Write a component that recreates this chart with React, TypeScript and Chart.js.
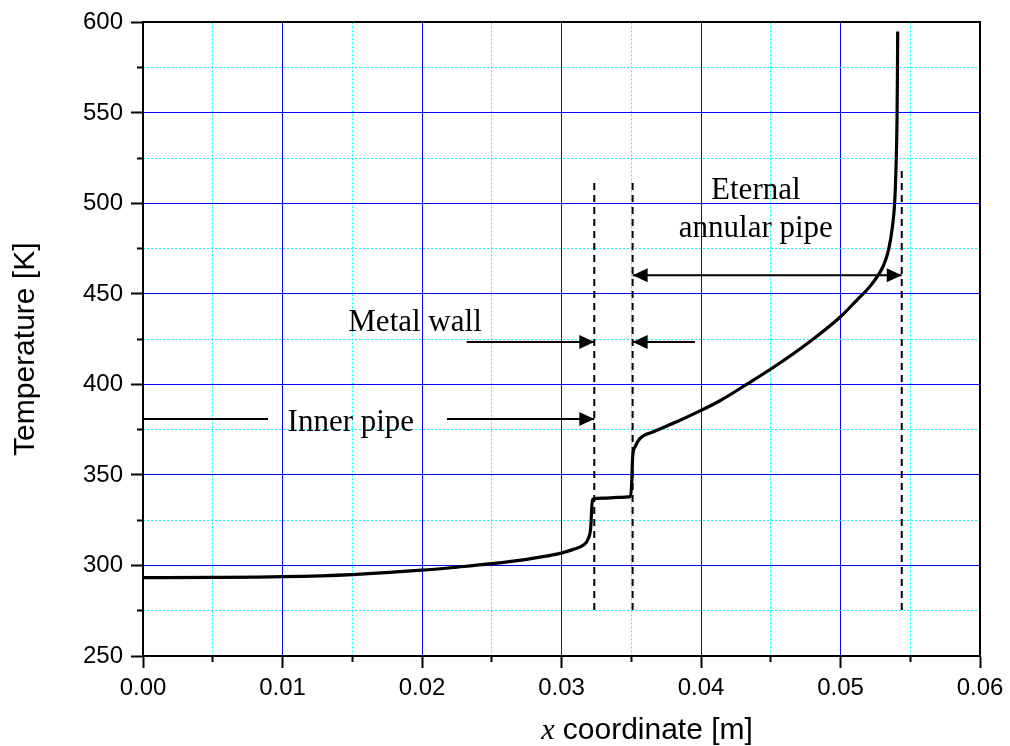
import { useEffect, useRef } from 'react';
import { Chart, registerables } from 'chart.js';

Chart.register(...registerables);

// ---- tick data ----
const xTickValues = [0, 0.01, 0.02, 0.03, 0.04, 0.05, 0.06];
const xTickLabels = ['0.00', '0.01', '0.02', '0.03', '0.04', '0.05', '0.06'];
const yTickValues = [250, 300, 350, 400, 450, 500, 550, 600];
const yTickLabels = ['250', '300', '350', '400', '450', '500', '550', '600'];

// ---- temperature profile ----
const positionX = [
  0, 0.005, 0.01, 0.015, 0.02, 0.0225, 0.025, 0.0275, 0.029, 0.0299,
  0.03085, 0.03157, 0.03193, 0.0321, 0.03216, 0.03222, 0.033, 0.034, 0.03495,
  0.03503, 0.0351, 0.03527, 0.03563, 0.03658, 0.03826, 0.03993, 0.04136, 0.0433,
  0.0452, 0.0476, 0.05, 0.05116, 0.0522, 0.05307, 0.05345, 0.05372, 0.05388,
  0.05398, 0.05405, 0.05408, 0.0541,
];
const temperature = [
  293.3, 293.4, 293.8, 295.0, 297.4, 299.1, 301.0, 303.4, 305.3, 306.7,
  308.9, 311.3, 315.0, 321.4, 330.6, 336.6, 337.2, 337.6, 338.0,
  345.0, 360.0, 365.5, 370.2, 373.9, 379.4, 385.4, 391.0, 400.2,
  409.5, 422.5, 437.4, 446.5, 455.0, 465.5, 474.5, 487.0, 500.0,
  520.0, 545.0, 570.0, 595.0,
];

// ---- dashed boundary lines ----
const boundaryX = [0.03235, 0.0351, 0.05439];
const boundaryBottom = [275.4, 275.4, 275.4];
const boundaryTop = [512, 512, 519.4];

// ---- arrows (x from, x to, T level, heads) ----
const arrowFrom = [0, 0.02179, 0.0232, 0.03957, 0.0351];
const arrowTo = [0.00896, 0.03235, 0.03235, 0.0351, 0.05439];
const arrowLevel = [380.9, 380.9, 423.5, 423.5, 460.3];
const arrowHeadStart = [false, false, false, false, true];
const arrowHeadEnd = [false, true, true, true, true];

// ---- annotation texts ----
const noteTexts = ['Inner pipe', 'Metal wall', 'Eternal', 'annular pipe'];
const noteX = [0.0149, 0.0195, 0.04393, 0.04393];
const noteY = [374.4, 429.6, 502.3, 481.2];

const BLUE = '#0000ff';
const CYAN = '#00ffff';
const CLEAR = 'rgba(0,0,0,0)';

const overlayPlugin = {
  id: 'overlay',
  afterDatasetsDraw(chart: any) {
    const ctx = chart.ctx as CanvasRenderingContext2D;
    const xs = chart.scales.x;
    const ys = chart.scales.y;
    ctx.save();
    ctx.fillStyle = '#000';
    const head = (tipX: number, tipY: number, dir: number) => {
      const L = 15;
      const H = 7;
      ctx.beginPath();
      ctx.moveTo(tipX, tipY);
      ctx.lineTo(tipX - dir * L, tipY - H);
      ctx.lineTo(tipX - dir * L, tipY + H);
      ctx.closePath();
      ctx.fill();
    };
    for (let i = 0; i < arrowFrom.length; i++) {
      const a = xs.getPixelForValue(arrowFrom[i]);
      const b = xs.getPixelForValue(arrowTo[i]);
      const py = ys.getPixelForValue(arrowLevel[i]);
      const dir = b >= a ? 1 : -1;
      if (arrowHeadEnd[i]) head(b, py, dir);
      if (arrowHeadStart[i]) head(a, py, -dir);
    }
    ctx.font = '31px "Liberation Serif", "Times New Roman", serif';
    ctx.textAlign = 'center';
    ctx.textBaseline = 'alphabetic';
    for (let i = 0; i < noteTexts.length; i++) {
      ctx.fillText(noteTexts[i], xs.getPixelForValue(noteX[i]), ys.getPixelForValue(noteY[i]));
    }
    ctx.restore();
  },
  afterDraw(chart: any) {
    const ctx = chart.ctx as CanvasRenderingContext2D;
    const area = chart.chartArea;
    ctx.save();
    ctx.fillStyle = '#000';
    ctx.translate(area.left - 109.5, (area.top + area.bottom) / 2 + 10);
    ctx.rotate(-Math.PI / 2);
    ctx.font = '30px "Liberation Sans", Arial, sans-serif';
    ctx.textAlign = 'center';
    ctx.textBaseline = 'alphabetic';
    ctx.fillText('Temperature [K]', 0, 0);
    ctx.restore();

    ctx.save();
    ctx.fillStyle = '#000';
    ctx.textBaseline = 'alphabetic';
    ctx.textAlign = 'left';
    const f1 = 'italic 30px "Liberation Serif", "Times New Roman", serif';
    const f2 = '30px "Liberation Sans", Arial, sans-serif';
    ctx.font = f1;
    const w1 = ctx.measureText('x').width;
    ctx.font = f2;
    const t2 = ' coordinate [m]';
    const w2 = ctx.measureText(t2).width;
    const cx = (area.left + area.right) / 2 + 85.5;
    const by = area.bottom + 82.5;
    const sx = cx - (w1 + w2) / 2;
    ctx.font = f1;
    ctx.fillText('x', sx, by);
    ctx.font = f2;
    ctx.fillText(t2, sx + w1, by);
    ctx.restore();
  },
};

export default function App() {
  const ref = useRef<HTMLCanvasElement>(null);

  useEffect(() => {
    const canvas = ref.current;
    if (!canvas) return;

    const curve = positionX.map((x, i) => ({ x, y: temperature[i] }));
    const dashedSets = boundaryX.map((x, i) => ({
      data: [
        { x, y: boundaryBottom[i] },
        { x, y: boundaryTop[i] },
      ],
      borderColor: '#000',
      borderWidth: 2,
      borderDash: [7, 5],
      pointRadius: 0,
      tension: 0,
      fill: false,
    }));
    const arrowSets = arrowFrom.map((a, i) => ({
      data: [
        { x: a, y: arrowLevel[i] },
        { x: arrowTo[i], y: arrowLevel[i] },
      ],
      borderColor: '#000',
      borderWidth: 2,
      pointRadius: 0,
      tension: 0,
      fill: false,
    }));

    const tickFont = { family: '"Liberation Sans", Arial, sans-serif', size: 24 };

    const chart = new Chart(canvas, {
      type: 'line',
      data: {
        datasets: [
          {
            data: curve,
            borderColor: '#000',
            borderWidth: 3.2,
            pointRadius: 0,
            cubicInterpolationMode: 'monotone',
            fill: false,
          } as any,
          ...dashedSets,
          ...arrowSets,
        ],
      },
      options: {
        responsive: false,
        devicePixelRatio: 1,
        animation: false,
        layout: { padding: { top: 22, right: 30, left: 0, bottom: 0 } },
        plugins: { legend: { display: false }, tooltip: { enabled: false }, title: { display: false } },
        scales: {
          x: {
            type: 'linear',
            position: 'bottom',
            weight: 1,
            min: 0,
            max: 0.06,
            afterBuildTicks: (s: any) => {
              s.ticks = xTickValues.map((v) => ({ value: v }));
            },
            ticks: {
              autoSkip: false,
              maxRotation: 0,
              color: '#000',
              font: tickFont,
              padding: 6,
              callback: (v: any) => {
                const i = xTickValues.findIndex((t) => Math.abs(t - Number(v)) < 1e-9);
                return i >= 0 ? xTickLabels[i] : '';
              },
            },
            grid: { color: BLUE, lineWidth: 1, tickLength: 12, tickWidth: 2, tickColor: '#000' },
            border: { display: true, color: '#000', width: 2 },
            afterFit: (s: any) => {
              s.height = 90;
            },
          },
          xMinor: {
            type: 'linear',
            position: 'bottom',
            weight: 0,
            min: 0,
            max: 0.06,
            ticks: { display: false, stepSize: 0.005 },
            grid: {
              color: (c: any) => (c.index % 2 === 1 ? CYAN : CLEAR),
              lineWidth: 1,
              tickLength: 6,
              tickWidth: 2,
              tickColor: (c: any) => (c.index % 2 === 1 ? '#000' : CLEAR),
              tickBorderDash: [],
            },
            border: { display: false, dash: [2, 2] },
            afterFit: (s: any) => {
              s.height = 0;
            },
          },
          xTop: {
            type: 'linear',
            position: 'top',
            min: 0,
            max: 0.06,
            ticks: { display: false },
            grid: { display: false, drawOnChartArea: false, drawTicks: false },
            border: { display: true, color: '#000', width: 2 },
            afterFit: (s: any) => {
              s.height = 0;
            },
          },
          y: {
            type: 'linear',
            position: 'left',
            weight: 1,
            min: 250,
            max: 600,
            afterBuildTicks: (s: any) => {
              s.ticks = yTickValues.map((v) => ({ value: v }));
            },
            ticks: {
              color: '#000',
              font: tickFont,
              padding: 8,
              callback: (v: any) => {
                const i = yTickValues.indexOf(Number(v));
                return i >= 0 ? yTickLabels[i] : '';
              },
            },
            grid: { color: BLUE, lineWidth: 1, tickLength: 12, tickWidth: 2, tickColor: '#000' },
            border: { display: true, color: '#000', width: 2 },
            afterFit: (s: any) => {
              s.width = 143;
            },
          },
          yMinor: {
            type: 'linear',
            position: 'left',
            weight: 0,
            min: 250,
            max: 600,
            ticks: { display: false, stepSize: 25 },
            grid: {
              color: (c: any) => (c.index % 2 === 1 ? CYAN : CLEAR),
              lineWidth: 1,
              tickLength: 6,
              tickWidth: 2,
              tickColor: (c: any) => (c.index % 2 === 1 ? '#000' : CLEAR),
              tickBorderDash: [],
            },
            border: { display: false, dash: [2, 2] },
            afterFit: (s: any) => {
              s.width = 0;
            },
          },
          yRight: {
            type: 'linear',
            position: 'right',
            min: 250,
            max: 600,
            ticks: { display: false },
            grid: { display: false, drawOnChartArea: false, drawTicks: false },
            border: { display: true, color: '#000', width: 2 },
            afterFit: (s: any) => {
              s.width = 0;
            },
          },
        },
      } as any,
      plugins: [overlayPlugin],
    });

    return () => chart.destroy();
  }, []);

  return (
    <div style={{ position: 'fixed', left: 0, top: 0, width: 1010, height: 746, background: '#fff' }}>
      <canvas ref={ref} width={1010} height={746} style={{ display: 'block' }} />
    </div>
  );
}
